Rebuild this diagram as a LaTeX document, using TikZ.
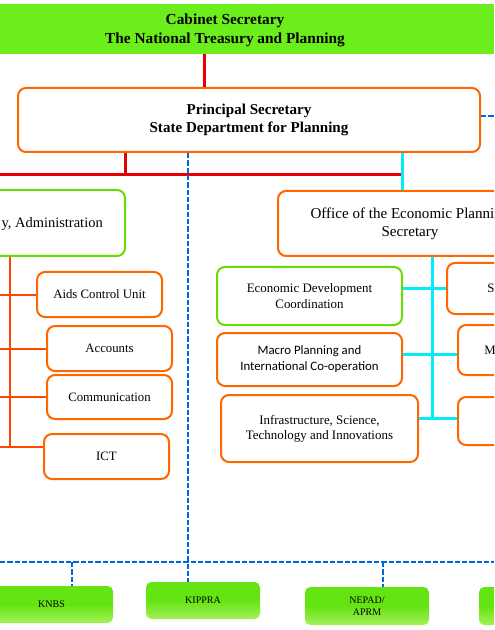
\documentclass[tikz,border=0pt]{standalone}
\usepackage{fontspec}
\setmainfont{Liberation Serif}
\newfontfamily\calfont{Carlito}
\definecolor{topg}{RGB}{108,238,28}
\definecolor{botg}{RGB}{100,228,18}
\definecolor{botgl}{RGB}{165,240,90}
\definecolor{orgc}{RGB}{255,102,0}
\definecolor{grnc}{RGB}{102,221,0}
\definecolor{redc}{RGB}{230,0,0}
\definecolor{olc}{RGB}{255,69,0}
\definecolor{cyc}{RGB}{0,238,250}
\definecolor{blc}{RGB}{0,102,221}
\tikzset{
  rect/.style n args={4}{at={({(#1+#3)/2},{(#2+#4)/2})}, minimum width={(#3-#1)*0.75pt}, minimum height={(#4-#2)*0.75pt}},
  box/.style={draw=orgc, line width=1.5pt, rounded corners=6pt, fill=white, inner sep=0pt, align=center, font=\fontsize{9.6}{12.5}\selectfont},
  gbox/.style={box, draw=grnc},
  topbar/.style={fill=topg, inner sep=0pt, align=center, font=\bfseries\fontsize{11.5}{14.3}\selectfont},
  fbox/.style={rounded corners=4pt, inner sep=0pt, align=center, top color=botg, bottom color=botgl, middle color=botg, font=\fontsize{7.5}{9}\selectfont},
  redl/.style={draw=redc, line width=2.25pt},
  cyl/.style={draw=cyc, line width=2.25pt},
  oll/.style={draw=olc, line width=1.5pt},
  dashl/.style={draw=blc, line width=1.5pt, dash pattern=on 4pt off 1.5pt},
}
\begin{document}
\begin{tikzpicture}[x=0.75pt,y=-0.75pt]
\useasboundingbox (0,0) rectangle (494,630);
\clip (0,0) rectangle (494,630);
% nodes
\node[topbar, rect={-44}{4}{494}{54}, text height=25pt, text depth=2.5pt] (cab) {Cabinet Secretary\\The National Treasury and Planning};
\node[box, rect={18}{88}{480}{152}, font=\bfseries\fontsize{11.3}{13.5}\selectfont] (ps) {Principal Secretary\\State Department for Planning};
\node[gbox, rect={-60}{190}{125}{256}] (admin) {};
\node[anchor=east, inner sep=0pt, font=\fontsize{10.85}{13}\selectfont] (admint) at (103,224) {y, Administration};
\node[box, rect={278}{191}{542}{256}, font=\fontsize{11.3}{13.5}\selectfont] (office) {Office of the Economic Planning\\Secretary};
\node[box, rect={37}{272}{162}{317}] (aids) {Aids Control Unit};
\node[box, rect={47}{326}{172}{371}] (acc) {Accounts};
\node[box, rect={47}{375}{172}{419}] (comm) {Communication};
\node[box, rect={44}{434}{169}{479}] (ict) {ICT};
\node[gbox, rect={217}{267}{402}{325}, font=\fontsize{9.7}{12}\selectfont] (edc) {Economic Development\\Coordination};
\node[box, rect={217}{333}{402}{386}, font=\calfont\fontsize{9.6}{12}\selectfont] (macro) {Macro Planning and\\International Co-operation};
\node[box, rect={221}{395}{418}{462}, font=\fontsize{9.7}{11.25}\selectfont] (infra) {Infrastructure, Science,\\Technology and Innovations};
\node[box, rect={447}{263}{535}{314}] (sbox) {S};
\node[box, rect={458}{325}{522}{375}] (mbox) {M};
\node[box, rect={458}{397}{530}{445}] (tbox) {};
\node[fbox, rect={-10}{586}{113}{623}] (knbs) {KNBS};
\node[fbox, rect={146}{582}{260}{619}] (kippra) {KIPPRA};
\node[fbox, rect={305}{587}{429}{625}] (nepad) {NEPAD/\\APRM};
\node[fbox, rect={479}{587}{600}{625}] (fifth) {};
% coordinates
\coordinate (k1) at (204,0);
\coordinate (xr) at (125,175);
\coordinate (rl) at (0,175);
\coordinate (rr) at (402,175);
\coordinate (be) at (494,116);
\coordinate (xd) at (188,562);
\coordinate (hl) at (0,562);
\coordinate (hr) at (494,562);
\coordinate (s1) at (72,562);
\coordinate (s3) at (383,562);
\coordinate (lt) at (10,447);
\coordinate (lb) at (0,0);
\coordinate (ct) at (432,418);
\coordinate (cy2) at (0,354);
% connectors
\draw[redl] (k1 |- cab.south) -- (k1 |- ps.north);
\draw[redl] (xr |- ps.south) -- (xr);
\draw[redl] (rl) -- (rr);
\draw[cyl] (rr |- ps.south) -- (rr |- office.north);
\draw[dashl] (ps.east |- be) -- (be);
\draw[dashl] (xd |- ps.south) -- (xd |- kippra.north);
\draw[dashl] (hl) -- (hr);
\draw[dashl, line width=2pt] (s1) -- (s1 |- knbs.north);
\draw[dashl, line width=2pt] (s3) -- (s3 |- nepad.north);
\draw[oll] (lt |- admin.south) -- (lt);
\draw[oll] (lb |- aids.west) -- (aids.west);
\draw[oll] (lb |- acc.west) -- (acc.west);
\draw[oll] (lb |- comm.west) -- (comm.west);
\draw[oll] (lb |- lt) -- (lt -| ict.west);
\draw[cyl] (ct |- office.south) -- (ct);
\draw[cyl] (edc.east |- sbox.west) -- (sbox.west);
\draw[cyl] (macro.east |- cy2) -- (mbox.west |- cy2);
\draw[cyl] (infra.east |- ct) -- (tbox.west |- ct);
\end{tikzpicture}
\end{document}
